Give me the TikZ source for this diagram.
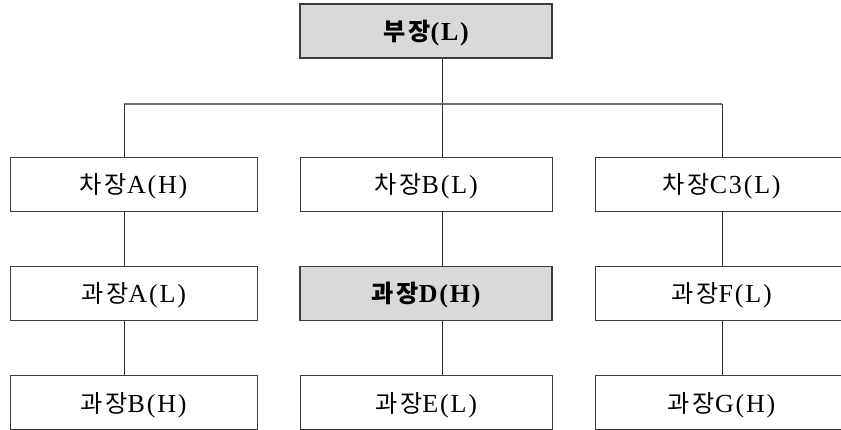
\documentclass[tikz,border=0pt]{standalone}
\usepackage{fontspec}
\setmainfont{Liberation Serif}[LetterSpace=7]
\newfontfamily\kr{Noto Sans CJK KR}[LetterSpace=12, Scale=0.93]
\newcommand\ko[1]{{\kr #1}}
\definecolor{boxgray}{HTML}{D9D9D9}
\definecolor{edge}{HTML}{3C3C3C}
\definecolor{wire}{HTML}{303030}
\definecolor{bus}{HTML}{6E6E6E}
\tikzset{
  post/.style={draw=edge, line width=1pt, fill=white, minimum height=54pt,
    inner sep=0pt, font=\fontsize{26}{30}\selectfont, text height=22pt, text depth=3pt},
  keypost/.style={post, fill=boxgray, line width=1.6pt,
    font=\fontsize{26}{30}\selectfont\bfseries},
  colL/.style={minimum width=247pt},
  colM/.style={minimum width=252pt},
  colR/.style={minimum width=253pt},
  link/.style={draw=wire, line width=0.9pt},
  buslink/.style={draw=bus, line width=1.4pt}
}
\begin{document}
\begin{tikzpicture}[x=1pt,y=-1pt]
\useasboundingbox (0,0) rectangle (841,430);
\clip (0,0) rectangle (841,430);

% head of department
\node[keypost, colM] (bu) at (426,31) {\ko{부장}(L)};

% deputy heads
\node[post, colL] (cA) at (133.5,184.5) {\ko{차장}A(H)};
\node[post, colM] (cB) at (426,184.5)   {\ko{차장}B(L)};
\node[post, colR] (cC) at (721.5,184.5) {\ko{차장}C3(L)};

% section heads, first level
\node[post, colL]    (gA) at (133.5,293.5) {\ko{과장}A(L)};
\node[keypost, colM] (gD) at (426,293.5)   {\ko{과장}D(H)};
\node[post, colR]    (gF) at (721.5,293.5) {\ko{과장}F(L)};

% section heads, second level
\node[post, colL] (gB) at (133.5,402.5) {\ko{과장}B(H)};
\node[post, colM] (gE) at (426,402.5)   {\ko{과장}E(L)};
\node[post, colR] (gG) at (721.5,402.5) {\ko{과장}G(H)};

% junctions on the distribution bus
\coordinate (jL) at (124,104);
\coordinate (jM) at (442,104);
\coordinate (jR) at (722,104);

\draw[link] (bu.south -| jM) -- (jM);
\draw[buslink] (jL) -- (jR);

\draw[link] (jL) -- (cA.north -| jL);
\draw[link] (jM) -- (cB.north -| jM);
\draw[link] (jR) -- (cC.north -| jR);

\draw[link] (cA.south -| jL) -- (gA.north -| jL);
\draw[link] (cB.south -| jM) -- (gD.north -| jM);
\draw[link] (cC.south -| jR) -- (gF.north -| jR);

\draw[link] (gA.south -| jL) -- (gB.north -| jL);
\draw[link] (gD.south -| jM) -- (gE.north -| jM);
\draw[link] (gF.south -| jR) -- (gG.north -| jR);
\end{tikzpicture}
\end{document}
